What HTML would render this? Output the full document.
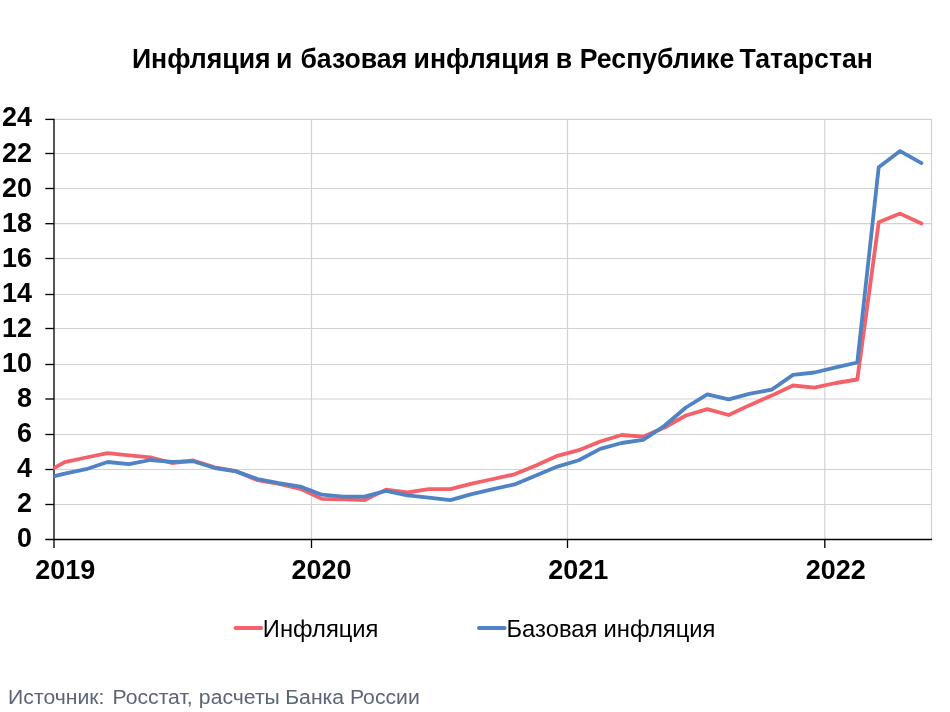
<!DOCTYPE html>
<html lang="ru"><head><meta charset="utf-8"><title>Инфляция и базовая инфляция в Республике Татарстан</title>
<style>
html,body{margin:0;padding:0;background:#fff;}
body{width:950px;height:712px;overflow:hidden;}
svg{display:block;}
text{font-family:"Liberation Sans",Arial,sans-serif;}
.b{font-weight:bold;font-size:27.8px;fill:#000;}
.lg{font-size:24.4px;fill:#000;}
.src{font-size:19.8px;fill:#5c6578;}
</style></head><body>
<svg width="950" height="712" viewBox="0 0 950 712">
<rect width="950" height="712" fill="#fff"/>
<defs><clipPath id="pa"><rect x="53.3" y="100" width="878.7" height="440"/></clipPath></defs>
<g stroke="#d2d2d2" stroke-width="1.2" fill="none">
<line x1="54" y1="119.4" x2="932" y2="119.4"/>
<line x1="54" y1="504.50" x2="932" y2="504.50"/>
<line x1="54" y1="469.50" x2="932" y2="469.50"/>
<line x1="54" y1="434.50" x2="932" y2="434.50"/>
<line x1="54" y1="399.00" x2="932" y2="399.00"/>
<line x1="54" y1="364.50" x2="932" y2="364.50"/>
<line x1="54" y1="328.50" x2="932" y2="328.50"/>
<line x1="54" y1="294.50" x2="932" y2="294.50"/>
<line x1="54" y1="258.50" x2="932" y2="258.50"/>
<line x1="54" y1="223.70" x2="932" y2="223.70"/>
<line x1="54" y1="188.50" x2="932" y2="188.50"/>
<line x1="54" y1="153.50" x2="932" y2="153.50"/>
<line x1="311.5" y1="119" x2="311.5" y2="539"/>
<line x1="567.5" y1="119" x2="567.5" y2="539"/>
<line x1="824.8" y1="119" x2="824.8" y2="539"/>
<line x1="931.5" y1="119" x2="931.5" y2="539"/>
</g>
<g stroke="#000" stroke-width="1.33" fill="none">
<line x1="54" y1="118.7" x2="54" y2="548"/>
<line x1="45.3" y1="539.5" x2="932" y2="539.5"/>
<line x1="45.3" y1="504.50" x2="54" y2="504.50"/>
<line x1="45.3" y1="469.50" x2="54" y2="469.50"/>
<line x1="45.3" y1="434.50" x2="54" y2="434.50"/>
<line x1="45.3" y1="399.00" x2="54" y2="399.00"/>
<line x1="45.3" y1="364.50" x2="54" y2="364.50"/>
<line x1="45.3" y1="328.50" x2="54" y2="328.50"/>
<line x1="45.3" y1="294.50" x2="54" y2="294.50"/>
<line x1="45.3" y1="258.50" x2="54" y2="258.50"/>
<line x1="45.3" y1="223.70" x2="54" y2="223.70"/>
<line x1="45.3" y1="188.50" x2="54" y2="188.50"/>
<line x1="45.3" y1="153.50" x2="54" y2="153.50"/>
<line x1="45.3" y1="119.40" x2="54" y2="119.40"/>
<line x1="311.5" y1="539.5" x2="311.5" y2="548"/>
<line x1="567.5" y1="539.5" x2="567.5" y2="548"/>
<line x1="824.8" y1="539.5" x2="824.8" y2="548"/>
</g>
<g fill="none" stroke-width="3.8" stroke-linejoin="round" stroke-linecap="round" clip-path="url(#pa)">
<polyline stroke="#f56169" points="43.3,474.0 64.7,462.2 86.1,457.5 107.6,453.1 129.0,455.4 150.4,457.4 171.8,463.0 193.2,460.5 214.7,467.3 236.1,471.2 257.5,480.2 278.9,484.0 300.3,488.8 321.8,498.9 343.2,499.3 364.6,500.1 386.0,489.6 407.4,492.5 428.9,489.1 450.3,489.1 471.7,483.7 493.1,479.0 514.5,474.3 536.0,465.4 557.4,455.8 578.8,450.2 600.2,441.5 621.6,435.0 643.1,436.7 664.5,427.5 685.9,415.5 707.3,409.1 728.7,415.0 750.2,404.9 771.6,395.6 793.0,385.5 814.4,387.7 835.8,383.0 857.3,379.5 878.7,222.2 900.1,213.6 921.5,223.5"/>
<polyline stroke="#4f83c3" points="43.3,478.8 64.7,473.7 86.1,469.2 107.6,462.0 129.0,464.2 150.4,460.0 171.8,461.8 193.2,461.3 214.7,468.0 236.1,471.4 257.5,479.0 278.9,483.2 300.3,486.6 321.8,494.7 343.2,496.7 364.6,496.7 386.0,490.8 407.4,495.4 428.9,497.6 450.3,500.1 471.7,494.2 493.1,489.1 514.5,484.4 536.0,475.5 557.4,466.6 578.8,460.3 600.2,448.9 621.6,443.0 643.1,439.8 664.5,425.8 685.9,407.5 707.3,394.3 728.7,399.4 750.2,393.6 771.6,389.7 793.0,374.9 814.4,372.5 835.8,367.3 857.3,362.5 878.7,167.2 900.1,151.1 921.5,163.1"/>
</g>
<text class="b" text-anchor="end" transform="translate(32.00,547.00) scale(0.9700,1)">0</text>
<text class="b" text-anchor="end" transform="translate(32.00,512.00) scale(0.9700,1)">2</text>
<text class="b" text-anchor="end" transform="translate(32.00,477.00) scale(0.9700,1)">4</text>
<text class="b" text-anchor="end" transform="translate(32.00,442.00) scale(0.9700,1)">6</text>
<text class="b" text-anchor="end" transform="translate(32.00,407.00) scale(0.9700,1)">8</text>
<text class="b" text-anchor="end" transform="translate(32.00,372.00) scale(0.9700,1)">10</text>
<text class="b" text-anchor="end" transform="translate(32.00,337.00) scale(0.9700,1)">12</text>
<text class="b" text-anchor="end" transform="translate(32.00,302.40) scale(0.9700,1)">14</text>
<text class="b" text-anchor="end" transform="translate(32.00,267.00) scale(0.9700,1)">16</text>
<text class="b" text-anchor="end" transform="translate(32.00,232.40) scale(0.9700,1)">18</text>
<text class="b" text-anchor="end" transform="translate(32.00,197.00) scale(0.9700,1)">20</text>
<text class="b" text-anchor="end" transform="translate(32.00,162.00) scale(0.9700,1)">22</text>
<text class="b" text-anchor="end" transform="translate(32.00,126.40) scale(0.9700,1)">24</text>
<text class="b" text-anchor="middle" transform="translate(65.30,579.40) scale(0.9720,1)">2019</text>
<text class="b" text-anchor="middle" transform="translate(321.60,579.40) scale(0.9720,1)">2020</text>
<text class="b" text-anchor="middle" transform="translate(578.30,579.40) scale(0.9720,1)">2021</text>
<text class="b" text-anchor="middle" transform="translate(835.80,579.40) scale(0.9720,1)">2022</text>
<g fill="none" stroke-width="4" stroke-linecap="round">
<line x1="235.5" y1="628" x2="261.1" y2="628" stroke="#f56169"/>
<line x1="479.0" y1="628" x2="504.6" y2="628" stroke="#4f83c3"/>
</g>
<text class="b" transform="translate(0,67.90) scale(0.9583,1)"><tspan x="137.69">Инфляция</tspan> <tspan x="288.14">и</tspan> <tspan x="313.46">базовая</tspan> <tspan x="431.58">инфляция</tspan> <tspan x="579.97">в</tspan> <tspan x="604.98">Республике</tspan> <tspan x="771.72">Татарстан</tspan></text>
<text class="lg" transform="translate(0,636.80) scale(0.9732,1)"><tspan x="270.12">Инфляция</tspan></text>
<text class="lg" transform="translate(0,636.80) scale(0.9747,1)"><tspan x="519.68">Базовая</tspan> <tspan x="619.20">инфляция</tspan></text>
<text class="src" transform="translate(0,703.60) scale(1.0705,1)"><tspan x="7.59">Источник:</tspan> <tspan x="105.08">Росстат,</tspan> <tspan x="185.79">расчеты</tspan> <tspan x="266.44">Банка</tspan> <tspan x="326.88">России</tspan></text>
</svg></body></html>
